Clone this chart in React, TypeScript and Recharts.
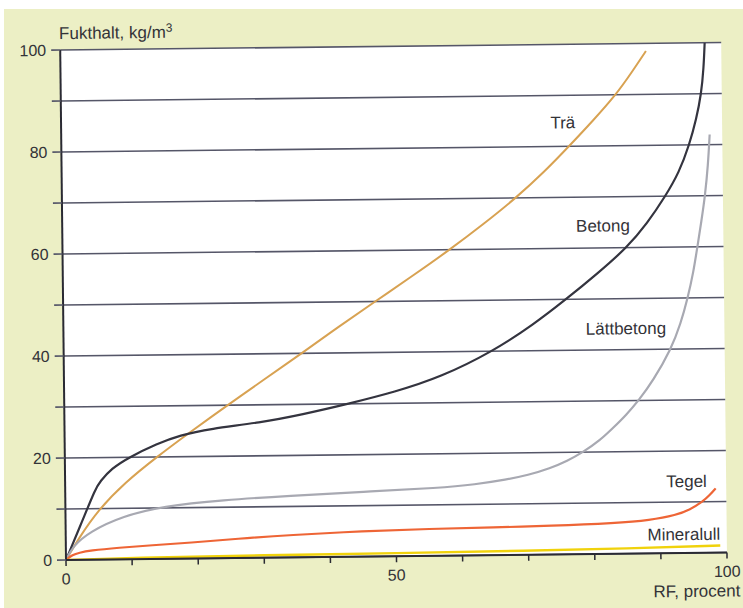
import React from 'react';
import { LineChart, Line, XAxis, YAxis, CartesianGrid, ReferenceDot } from 'recharts';

// RF, procent (x) and Fukthalt kg/m3 (y)
const rfTicks = [0, 10, 20, 30, 40, 50, 60, 70, 80, 90, 100];
const rfLabels = [0, 50, 100];
const moistureTicks = [0, 10, 20, 30, 40, 50, 60, 70, 80, 90, 100];
const moistureLabels = [0, 20, 40, 60, 80, 100];

const tra: [number, number][] = [
  [0, 0], [2, 4.3], [5, 9.8], [9, 15], [13.9, 20], [19, 24.8], [24.7, 30], [30, 34.7], [36, 40],
  [41.5, 45], [47.2, 50], [53, 55], [58.6, 60], [63.8, 65], [68.7, 70], [73, 75], [76.8, 80],
  [80.5, 85], [84, 90], [86.5, 94.5], [88.6, 98.5],
];
const betong: [number, number][] = [
  [0, 0], [2.5, 7.5], [4.6, 14], [5.3, 15.3], [7, 17.8], [9.7, 20], [14, 22.6], [17.4, 24.2], [22, 25.4],
  [29.6, 26.5], [36, 28], [43, 30], [50, 32.2], [57, 35], [65, 40], [71, 45], [76.1, 50],
  [81, 55.1], [85.4, 60], [88.5, 64.7], [91.3, 70], [93.4, 74.6], [95, 80], [96.1, 85], [96.9, 90],
  [97.3, 95], [97.5, 100],
];
const lattbetong: [number, number][] = [
  [0, 0], [1, 2.6], [3.6, 5.5], [8.7, 8.5], [14.7, 10.3], [23.8, 11.4], [34, 12.1], [45, 12.7],
  [56.7, 13.3], [62, 13.9], [66.8, 14.8], [70, 15.6], [73.4, 16.9], [76, 18.3], [78.4, 20],
  [81, 22.3], [83, 24.7], [85, 27.2], [86.9, 30], [89.1, 33.8], [91.9, 40], [93.4, 45], [94.5, 50],
  [95.4, 55], [96.05, 60], [96.7, 65], [97.3, 70], [97.8, 76], [98.1, 82],
];
const tegel: [number, number][] = [
  [0, 0], [1, 1], [2, 1.4], [3.6, 1.8], [8, 2.3], [13, 2.7], [18.8, 3.1], [26, 3.8], [33.9, 4.4],
  [45, 5], [55, 5.3], [65, 5.45], [73.2, 5.6], [83.3, 6], [88.4, 6.5], [92.4, 7.45], [94.5, 8.5],
  [96.4, 10], [97.5, 11.3], [98.4, 12.6],
];
const mineralull: [number, number][] = [
  [0, 0], [10, 0.3], [30, 0.5], [50, 0.6], [70, 0.8], [85, 1.0], [99, 1.4],
];

const curveNames = ['Trä', 'Betong', 'Lättbetong', 'Tegel', 'Mineralull'];
const labelAnchorsX = [75.9, 81.8, 85.1, 94.0, 93.5];
const labelAnchorsY = [84.7, 64.4, 44.2, 14.1, 3.7];

const toRows = (pts: [number, number][]) => pts.map(([x, y]) => ({ x, y }));

const FONT = '"Liberation Sans", Arial, Helvetica, sans-serif';
const TEXT = '#333338';
const GRID = '#555668';

const series = [
  { name: 'Trä', data: toRows(tra), color: '#d8a252', width: 2 },
  { name: 'Betong', data: toRows(betong), color: '#34343f', width: 2.2 },
  { name: 'Lättbetong', data: toRows(lattbetong), color: '#a8a9b2', width: 2.2 },
  { name: 'Tegel', data: toRows(tegel), color: '#ee6536', width: 2.2 },
  { name: 'Mineralull', data: toRows(mineralull), color: '#f0d20c', width: 2.4 },
];

export default function App() {
  return (
    <div style={{ position: 'absolute', left: 0, top: 0, width: 743, height: 608, background: '#ffffff', overflow: 'hidden' }}>
      <div style={{ position: 'absolute', left: 4, top: 9, right: 0, bottom: 0, background: '#ecefc5' }} />
      <div
        style={{
          position: 'absolute', left: 0, top: 0, width: 743, height: 608,
          transform: 'rotate(-0.65deg)', transformOrigin: '66px 560px', fontFamily: FONT,
        }}
      >
        <LineChart width={743} height={608} margin={{ top: 50, right: 16, bottom: 18, left: 0 }}>
          <CartesianGrid vertical={false} horizontal stroke={GRID} strokeWidth={1.6} fill="#ffffff" fillOpacity={1} />
          <XAxis
            dataKey="x"
            type="number"
            domain={[0, 100]}
            ticks={rfTicks}
            interval={0}
            height={30}
            allowDataOverflow
            tickFormatter={(v: number) => (rfLabels.includes(v) ? String(v) : '')}
            tickSize={6}
            tickMargin={7}
            axisLine={{ stroke: '#2a2a33', strokeWidth: 2 }}
            tickLine={{ stroke: '#2a2a33', strokeWidth: 1.5 }}
            tick={{ fontSize: 16, fill: TEXT, fontFamily: FONT }}
          />
          <YAxis
            dataKey="y"
            type="number"
            domain={[0, 100]}
            ticks={moistureTicks}
            interval={0}
            width={66}
            allowDataOverflow
            tickFormatter={(v: number) => (moistureLabels.includes(v) ? String(v) : '')}
            tickSize={9}
            tickMargin={5}
            axisLine={{ stroke: '#2a2a33', strokeWidth: 2 }}
            tickLine={{ stroke: GRID, strokeWidth: 1.6 }}
            tick={{ fontSize: 16, fill: TEXT, fontFamily: FONT }}
          />
          {series.map((s) => (
            <Line
              key={s.name}
              data={s.data}
              dataKey="y"
              name={s.name}
              type="basis"
              stroke={s.color}
              strokeWidth={s.width}
              dot={false}
              activeDot={false}
              isAnimationActive={false}
            />
          ))}
          {curveNames.map((n, i) => (
            <ReferenceDot
              key={n}
              x={labelAnchorsX[i]}
              y={labelAnchorsY[i]}
              r={0}
              fill="none"
              stroke="none"
              label={{ value: n, position: 'center', fontSize: 17, fill: TEXT, fontFamily: FONT }}
            />
          ))}
        </LineChart>
        <div style={{ position: 'absolute', left: 65, top: 24, fontSize: 17, lineHeight: '20px', color: TEXT, whiteSpace: 'nowrap' }}>
          Fukthalt, kg/m<span style={{ fontSize: 12, position: 'relative', top: -6 }}>3</span>
        </div>
        <div style={{ position: 'absolute', right: 3, top: 589, fontSize: 17, lineHeight: '20px', color: TEXT, whiteSpace: 'nowrap' }}>
          RF, procent
        </div>
      </div>
    </div>
  );
}
